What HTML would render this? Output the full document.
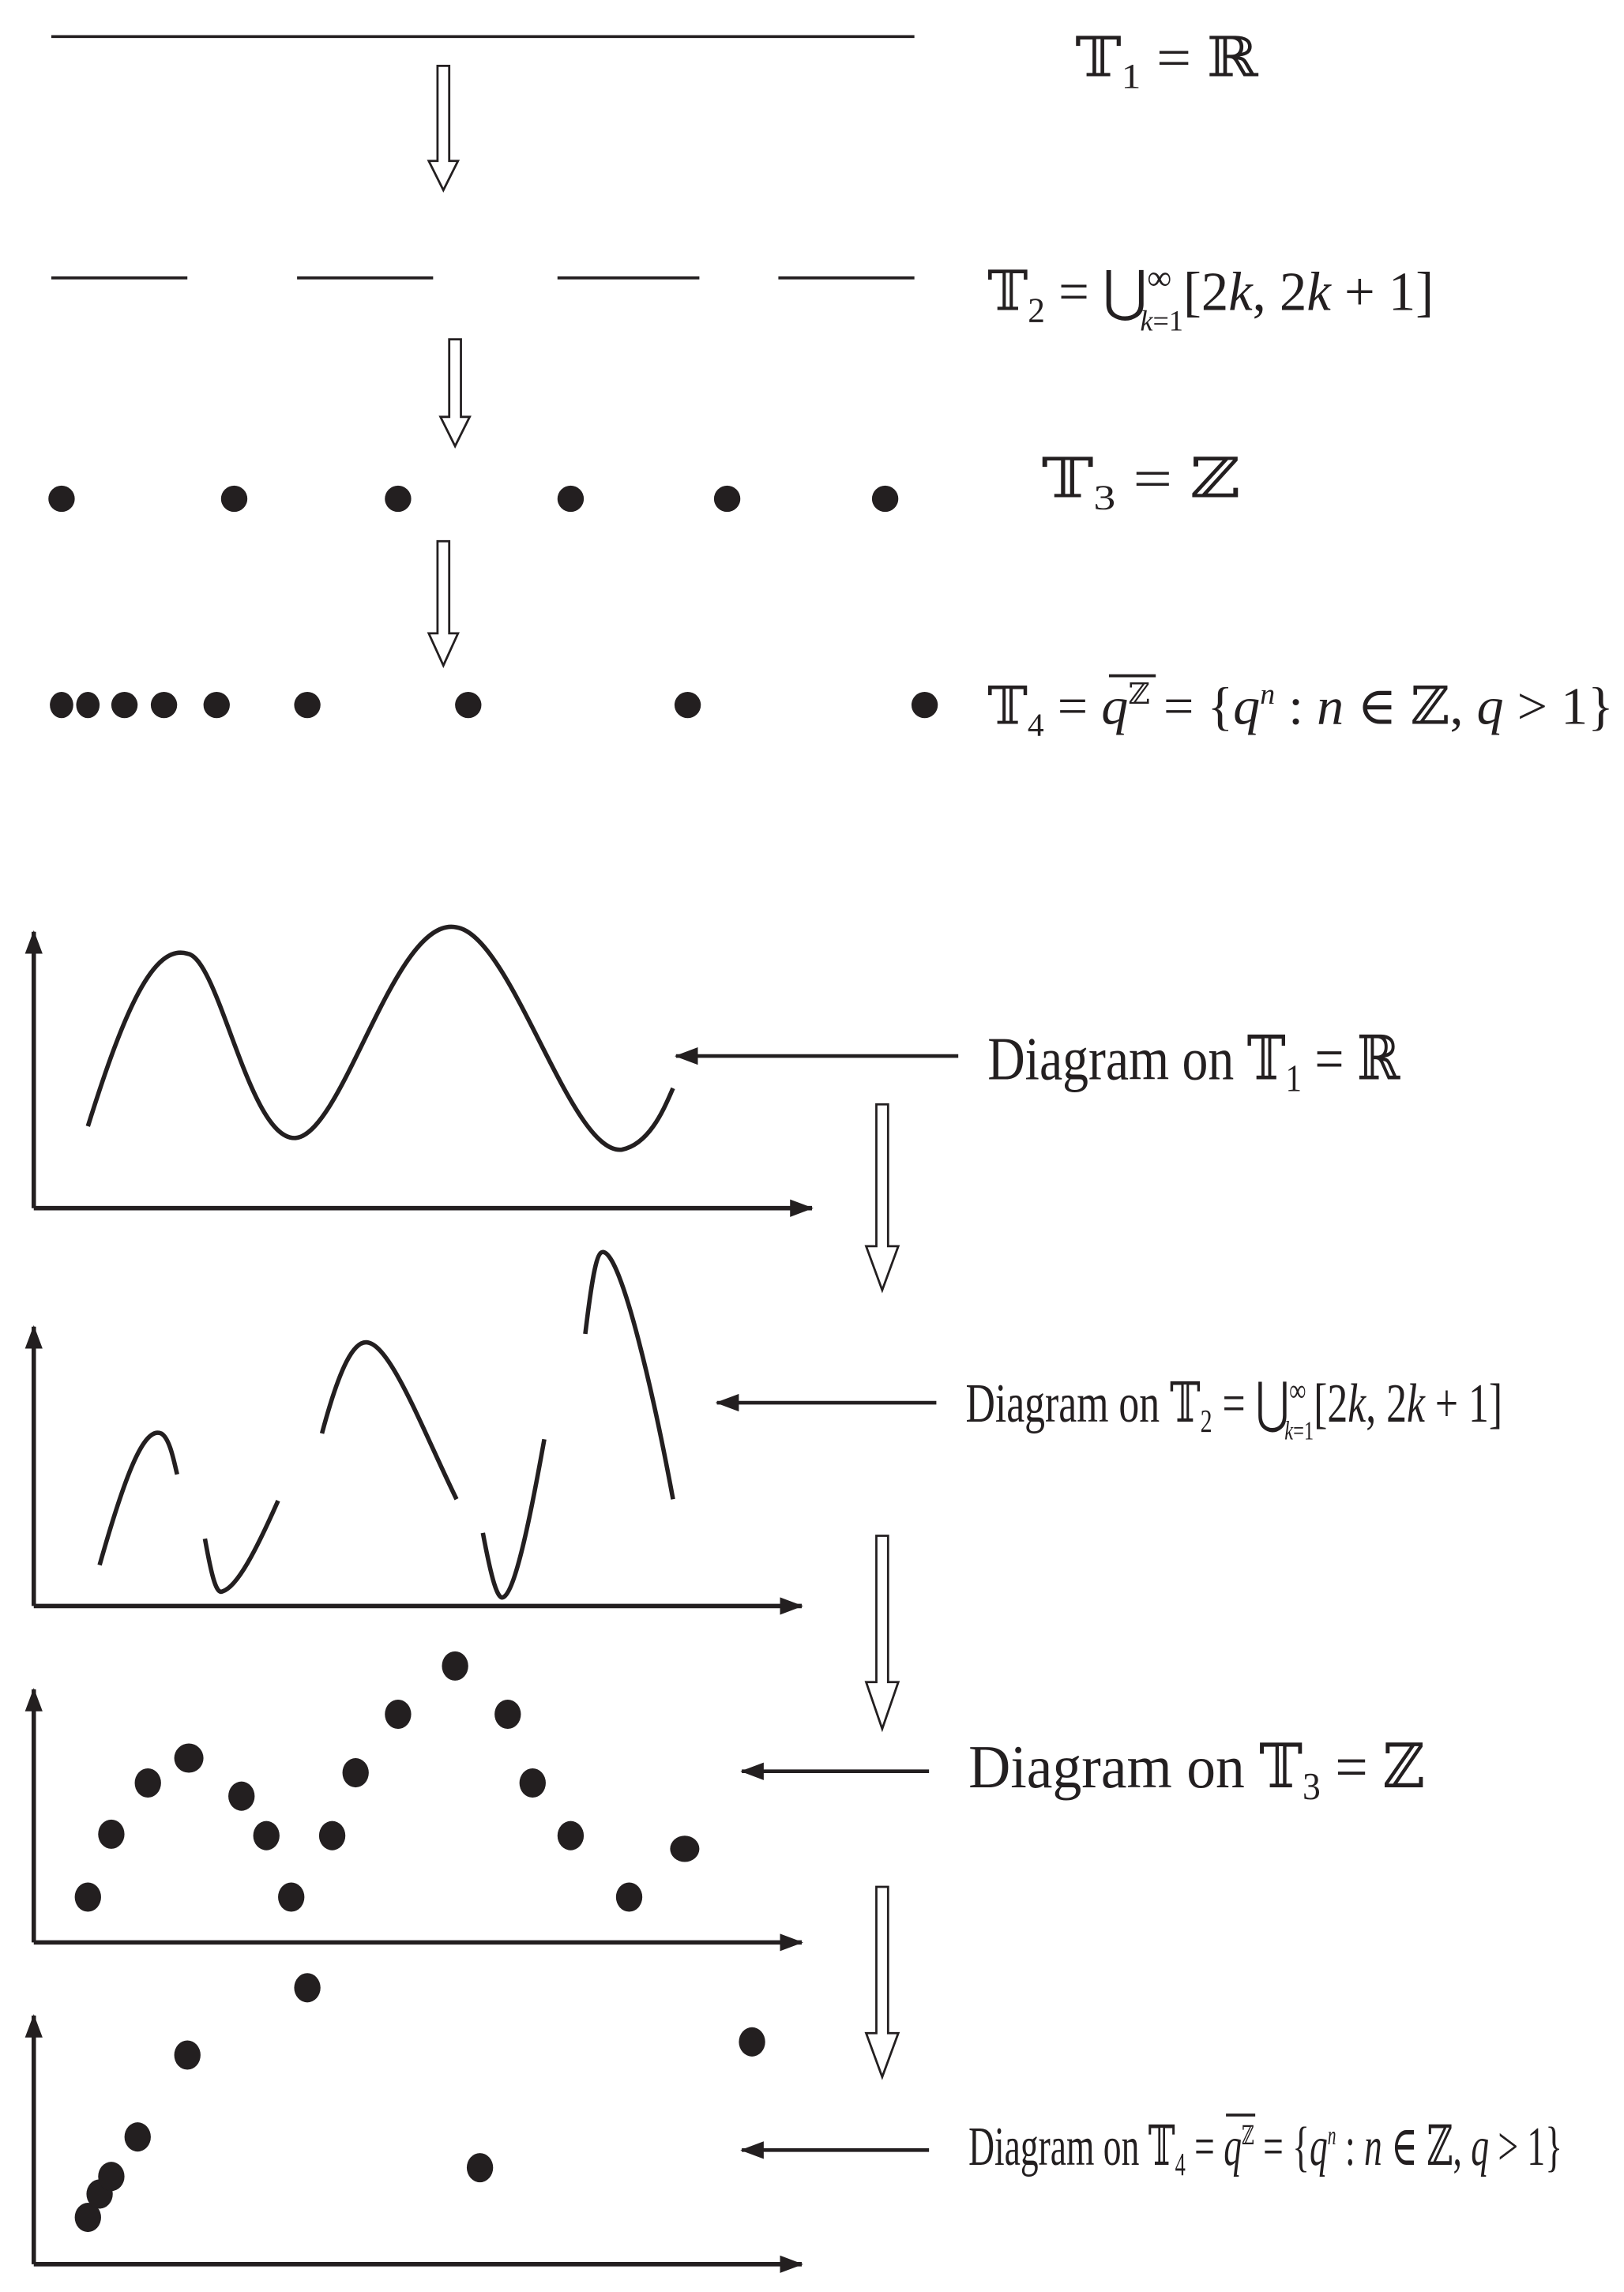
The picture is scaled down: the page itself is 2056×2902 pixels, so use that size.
<!DOCTYPE html>
<html><head><meta charset="utf-8">
<style>
html,body{margin:0;padding:0;background:#fff;}
svg{display:block;}
text{font-family:"Liberation Serif","DejaVu Serif",serif;fill:#231f20;}
.i{font-style:italic;}
</style></head>
<body>
<svg width="2056" height="2902" viewBox="0 0 1110 1567" xmlns="http://www.w3.org/2000/svg">
<defs>
<marker id="ah2" markerWidth="16" markerHeight="12" refX="15" refY="6" orient="auto" markerUnits="userSpaceOnUse">
<path d="M0,0 L16,6 L0,12 Z" fill="#231f20"/>
</marker>
</defs>
<g stroke="#231f20" fill="none" stroke-width="2">
<line x1="35" y1="25" x2="625" y2="25"/>
<line x1="35" y1="190" x2="128" y2="190"/>
<line x1="203" y1="190" x2="296" y2="190"/>
<line x1="381" y1="190" x2="478" y2="190"/>
<line x1="532" y1="190" x2="625" y2="190"/>
<path d="M299,45 L307,45 L307,110 L313,110 L303,130 L293,110 L299,110 Z" stroke-width="1.5"/>
<path d="M307,232 L315,232 L315,285 L321,285 L311,305 L301,285 L307,285 Z" stroke-width="1.5"/>
<path d="M299,370 L307,370 L307,433 L313,433 L303,455 L293,433 L299,433 Z" stroke-width="1.5"/>
<path d="M599,755 L607,755 L607,852 L614,852 L603,882 L592,852 L599,852 Z" stroke-width="1.5"/>
<path d="M599,1050 L607,1050 L607,1150 L614,1150 L603,1182 L592,1150 L599,1150 Z" stroke-width="1.5"/>
<path d="M599,1290 L607,1290 L607,1390 L614,1390 L603,1420 L592,1390 L599,1390 Z" stroke-width="1.5"/>
</g>
<g fill="#231f20">
<circle cx="42" cy="341" r="9"/><circle cx="160" cy="341" r="9"/><circle cx="272" cy="341" r="9"/>
<circle cx="390" cy="341" r="9"/><circle cx="497" cy="341" r="9"/><circle cx="605" cy="341" r="9"/>
<ellipse cx="42" cy="482" rx="8" ry="9"/><ellipse cx="60" cy="482" rx="8" ry="9"/><ellipse cx="85" cy="482" rx="9" ry="9"/>
<ellipse cx="112" cy="482" rx="9" ry="9"/><circle cx="148" cy="482" r="9"/><circle cx="210" cy="482" r="9"/>
<circle cx="320" cy="482" r="9"/><circle cx="470" cy="482" r="9"/><circle cx="632" cy="482" r="9"/>
</g>
<text x="735" y="52" font-size="38" textLength="125" lengthAdjust="spacingAndGlyphs">𝕋<tspan font-size="24" dy="8">1</tspan><tspan dy="-8"> = ℝ</tspan></text>
<text x="675" y="212" font-size="38" textLength="305" lengthAdjust="spacingAndGlyphs">𝕋<tspan font-size="24" dy="8">2</tspan><tspan dy="-8"> = ⋃</tspan><tspan font-size="24" dy="-14">∞</tspan><tspan font-size="20" dx="-22" dy="28" class="i">k</tspan><tspan font-size="20">=1</tspan><tspan dy="-14">[2</tspan><tspan class="i">k</tspan><tspan>, 2</tspan><tspan class="i">k</tspan><tspan> + 1]</tspan></text>
<text x="712" y="340" font-size="38" textLength="136" lengthAdjust="spacingAndGlyphs">𝕋<tspan font-size="24" dy="8">3</tspan><tspan dy="-8"> = ℤ</tspan></text>
<text x="675" y="495" font-size="36" textLength="428" lengthAdjust="spacingAndGlyphs">𝕋<tspan font-size="22" dy="8">4</tspan><tspan dy="-8"> = </tspan><tspan class="i">q</tspan><tspan font-size="20" dy="-14">ℤ</tspan><tspan dy="14"> = {</tspan><tspan class="i">q</tspan><tspan font-size="20" dy="-14" class="i">n</tspan><tspan dy="14"> : </tspan><tspan class="i">n</tspan><tspan> ∈ ℤ, </tspan><tspan class="i">q</tspan><tspan> &gt; 1}</tspan></text>
<line x1="758" y1="462" x2="790" y2="462" stroke="#231f20" stroke-width="2"/>
<g stroke="#231f20" stroke-width="3" fill="none">
<line x1="23" y1="826" x2="23" y2="637" marker-end="url(#ah2)"/>
<line x1="23" y1="826" x2="555" y2="826" marker-end="url(#ah2)"/>
<line x1="23" y1="1098" x2="23" y2="907" marker-end="url(#ah2)"/>
<line x1="23" y1="1098" x2="548" y2="1098" marker-end="url(#ah2)"/>
<line x1="23" y1="1328" x2="23" y2="1155" marker-end="url(#ah2)"/>
<line x1="23" y1="1328" x2="548" y2="1328" marker-end="url(#ah2)"/>
<line x1="23" y1="1548" x2="23" y2="1378" marker-end="url(#ah2)"/>
<line x1="23" y1="1548" x2="548" y2="1548" marker-end="url(#ah2)"/>
<line x1="655" y1="722" x2="462" y2="722" stroke-width="2.5" marker-end="url(#ah2)"/>
<line x1="640" y1="959" x2="490" y2="959" stroke-width="2.5" marker-end="url(#ah2)"/>
<line x1="635" y1="1211" x2="507" y2="1211" stroke-width="2.5" marker-end="url(#ah2)"/>
<line x1="635" y1="1470" x2="507" y2="1470" stroke-width="2.5" marker-end="url(#ah2)"/>
</g>
<g stroke="#231f20" stroke-width="3" fill="none">
<path d="M60,770 C85,690 105,645 128,652 C150,655 170,780 202,778 C235,775 270,625 312,634 C350,640 390,790 425,786 C445,782 455,755 460,744"/>
<path d="M68,1070 C85,1010 98,975 110,980 C116,983 119,1000 121,1008"/>
<path d="M140,1052 C145,1080 148,1090 152,1088 C162,1085 175,1060 190,1026"/>
<path d="M220,980 C232,935 242,915 252,918 C268,922 290,980 312,1025"/>
<path d="M330,1048 C336,1080 340,1094 344,1092 C352,1088 362,1040 372,984"/>
<path d="M400,912 C405,870 408,856 412,856 C425,856 448,960 460,1025"/>
</g>
<g fill="#231f20">
<ellipse cx="60" cy="1297" rx="9" ry="10"/><ellipse cx="76" cy="1254" rx="9" ry="10"/><ellipse cx="101" cy="1219" rx="9" ry="10"/>
<ellipse cx="129" cy="1202" rx="10" ry="10"/><ellipse cx="165" cy="1228" rx="9" ry="10"/><ellipse cx="182" cy="1255" rx="9" ry="10"/>
<ellipse cx="199" cy="1297" rx="9" ry="10"/><ellipse cx="227" cy="1255" rx="9" ry="10"/><ellipse cx="243" cy="1212" rx="9" ry="10"/>
<ellipse cx="272" cy="1172" rx="9" ry="10"/><ellipse cx="311" cy="1139" rx="9" ry="10"/><ellipse cx="347" cy="1172" rx="9" ry="10"/>
<ellipse cx="364" cy="1219" rx="9" ry="10"/><ellipse cx="390" cy="1255" rx="9" ry="10"/><ellipse cx="430" cy="1297" rx="9" ry="10"/>
<ellipse cx="468" cy="1264" rx="10" ry="9"/>
<ellipse cx="60" cy="1516" rx="9" ry="10"/><ellipse cx="68" cy="1500" rx="9" ry="10"/><ellipse cx="76" cy="1488" rx="9" ry="10"/>
<ellipse cx="94" cy="1461" rx="9" ry="10"/><ellipse cx="128" cy="1405" rx="9" ry="10"/><ellipse cx="210" cy="1359" rx="9" ry="10"/>
<ellipse cx="328" cy="1482" rx="9" ry="10"/><ellipse cx="514" cy="1396" rx="9" ry="10"/>
</g>
<text x="675" y="738" font-size="42" textLength="282" lengthAdjust="spacingAndGlyphs">Diagram on 𝕋<tspan font-size="26" dy="8">1</tspan><tspan dy="-8"> = ℝ</tspan></text>
<text x="660" y="972" font-size="38" textLength="367" lengthAdjust="spacingAndGlyphs">Diagram on 𝕋<tspan font-size="22" dy="7">2</tspan><tspan dy="-7"> = ⋃</tspan><tspan font-size="22" dy="-14">∞</tspan><tspan font-size="18" dx="-20" dy="26" class="i">k</tspan><tspan font-size="18">=1</tspan><tspan dy="-12">[2</tspan><tspan class="i">k</tspan><tspan>, 2</tspan><tspan class="i">k</tspan><tspan> + 1]</tspan></text>
<text x="662" y="1222" font-size="42" textLength="312" lengthAdjust="spacingAndGlyphs">Diagram on 𝕋<tspan font-size="26" dy="8">3</tspan><tspan dy="-8"> = ℤ</tspan></text>
<text x="662" y="1480" font-size="38" textLength="406" lengthAdjust="spacingAndGlyphs">Diagram on 𝕋<tspan font-size="22" dy="7">4</tspan><tspan dy="-7"> = </tspan><tspan class="i">q</tspan><tspan font-size="18" dy="-14">ℤ</tspan><tspan dy="14"> = {</tspan><tspan class="i">q</tspan><tspan font-size="18" dy="-14" class="i">n</tspan><tspan dy="14"> : </tspan><tspan class="i">n</tspan><tspan> ∈ ℤ, </tspan><tspan class="i">q</tspan><tspan> &gt; 1}</tspan></text>
<line x1="838" y1="1446" x2="858" y2="1446" stroke="#231f20" stroke-width="2"/>
</svg>
</body></html>
